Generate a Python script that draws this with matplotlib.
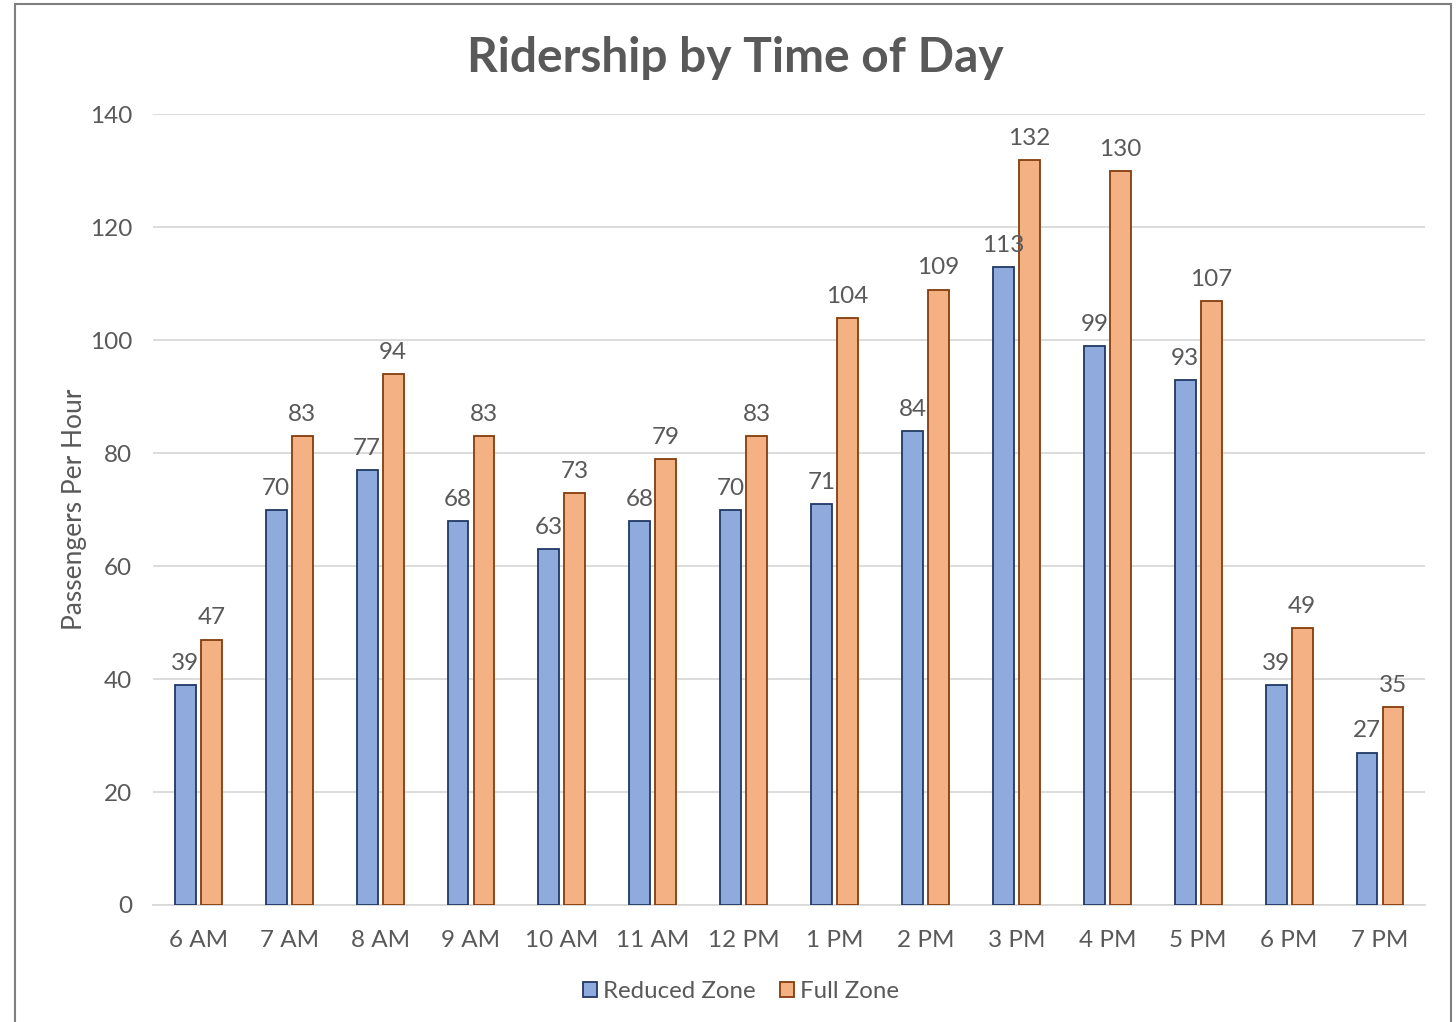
import matplotlib.pyplot as plt
import numpy as np
from matplotlib.patches import Rectangle

plt.rcParams['font.family'] = ['Lato', 'DejaVu Sans']

hours = ['6 AM', '7 AM', '8 AM', '9 AM', '10 AM', '11 AM', '12 PM',
         '1 PM', '2 PM', '3 PM', '4 PM', '5 PM', '6 PM', '7 PM']
reduced_zone = [39, 70, 77, 68, 63, 68, 70, 71, 84, 113, 99, 93, 39, 27]
full_zone = [47, 83, 94, 83, 73, 79, 83, 104, 109, 132, 130, 107, 49, 35]

text_col = '#595959'
grid_col = '#D9D9D9'

fig = plt.figure(figsize=(14.56, 10.22), dpi=100)
ax = fig.add_axes([0.105, 0.1145, 0.874, 0.7735])

x = np.arange(len(hours))
w = 0.23
off = 0.143
b1 = ax.bar(x - off, reduced_zone, w, color='#8FAADC', edgecolor='#203864',
            linewidth=1.3, label='Reduced Zone', zorder=3)
b2 = ax.bar(x + off, full_zone, w, color='#F4B183', edgecolor='#843C0C',
            linewidth=1.3, label='Full Zone', zorder=3)

for bars in (b1, b2):
    ax.bar_label(bars, padding=8, fontsize=17.5, color=text_col)

ax.set_xlim(-0.5, len(hours) - 0.5)
ax.set_ylim(0, 140)
ax.set_yticks(range(0, 141, 20))
ax.set_xticks(x)
ax.set_xticklabels(hours)
ax.tick_params(length=0, labelsize=17.5, colors=text_col)
ax.tick_params(axis='x', pad=18)
ax.tick_params(axis='y', pad=15)
ax.grid(axis='y', color=grid_col, linewidth=1.3, zorder=0)
for s in ['top', 'right', 'left']:
    ax.spines[s].set_visible(False)
ax.spines['bottom'].set_color(grid_col)
ax.spines['bottom'].set_linewidth(1.3)

ax.set_ylabel('Passengers Per Hour', fontsize=19, color=text_col, labelpad=2)
fig.text(0.505, 0.943, 'Ridership by Time of Day', ha='center', va='center',
         fontsize=34.5, fontweight='bold', color=text_col)

leg = fig.legend(loc='center', bbox_to_anchor=(0.509, 0.03), ncol=2,
                 frameon=False, fontsize=17.3, handlelength=0.6,
                 handleheight=0.6, handletextpad=0.25, columnspacing=1.0)
for t in leg.get_texts():
    t.set_color(text_col)

fig.patches.append(Rectangle((15 / 1456, -0.01), 1436 / 1456, 1 - 4 / 1022 + 0.01,
                             transform=fig.transFigure, fill=False,
                             edgecolor='#7F7F7F', linewidth=1.5))

fig.savefig('out.png', dpi=100)
